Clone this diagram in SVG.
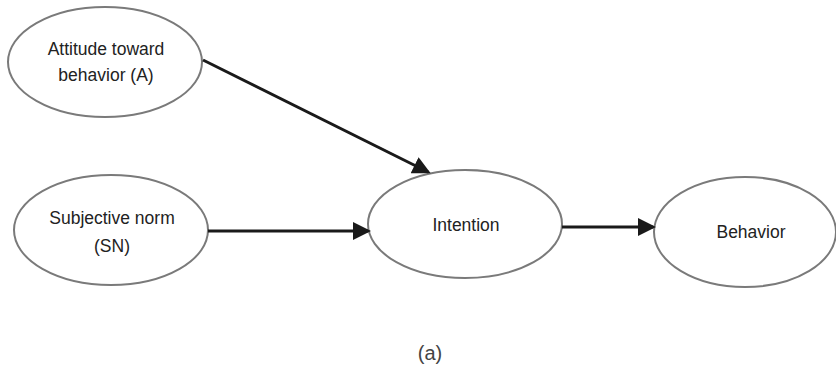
<svg xmlns="http://www.w3.org/2000/svg" width="836" height="387" viewBox="0 0 836 387">
<style>
.node ellipse{fill:#fff;stroke:#7a7a7a;stroke-width:2}
.node text{font-family:"Liberation Sans",Arial,sans-serif;font-size:17.5px;fill:#222;text-anchor:middle}
.conn line{stroke:#1a1a1a;stroke-width:3}
.cap{font-family:"Liberation Sans",Arial,sans-serif;font-size:20px;fill:#444;text-anchor:middle}
</style>
<defs>
<marker id="ah" markerWidth="6" markerHeight="6" refX="5" refY="3" orient="auto" markerUnits="strokeWidth">
<path d="M0,0 L6,3 L0,6 Z" fill="#1a1a1a"/>
</marker>
</defs>
<rect width="836" height="387" fill="#fff"/>
<g id="nodeA" class="node">
<ellipse cx="105" cy="62" rx="97" ry="55"/>
<text x="106" y="55">Attitude toward</text>
<text x="106" y="81">behavior (A)</text>
</g>
<g id="nodeSN" class="node">
<ellipse cx="111" cy="230" rx="97" ry="55"/>
<text x="112" y="224">Subjective norm</text>
<text x="112" y="252">(SN)</text>
</g>
<g id="nodeIntention" class="node">
<ellipse cx="465" cy="224" rx="97" ry="54"/>
<text x="466" y="231">Intention</text>
</g>
<g id="nodeBehavior" class="node">
<ellipse cx="745" cy="232" rx="91" ry="55"/>
<text x="751" y="238">Behavior</text>
</g>
<g id="connectors" class="conn">
<line x1="203" y1="60" x2="428" y2="172" marker-end="url(#ah)"/>
<line x1="208" y1="231" x2="368" y2="231" marker-end="url(#ah)"/>
<line x1="562" y1="227" x2="653" y2="227" marker-end="url(#ah)"/>
</g>
<text class="cap" x="430" y="360">(a)</text>
</svg>
